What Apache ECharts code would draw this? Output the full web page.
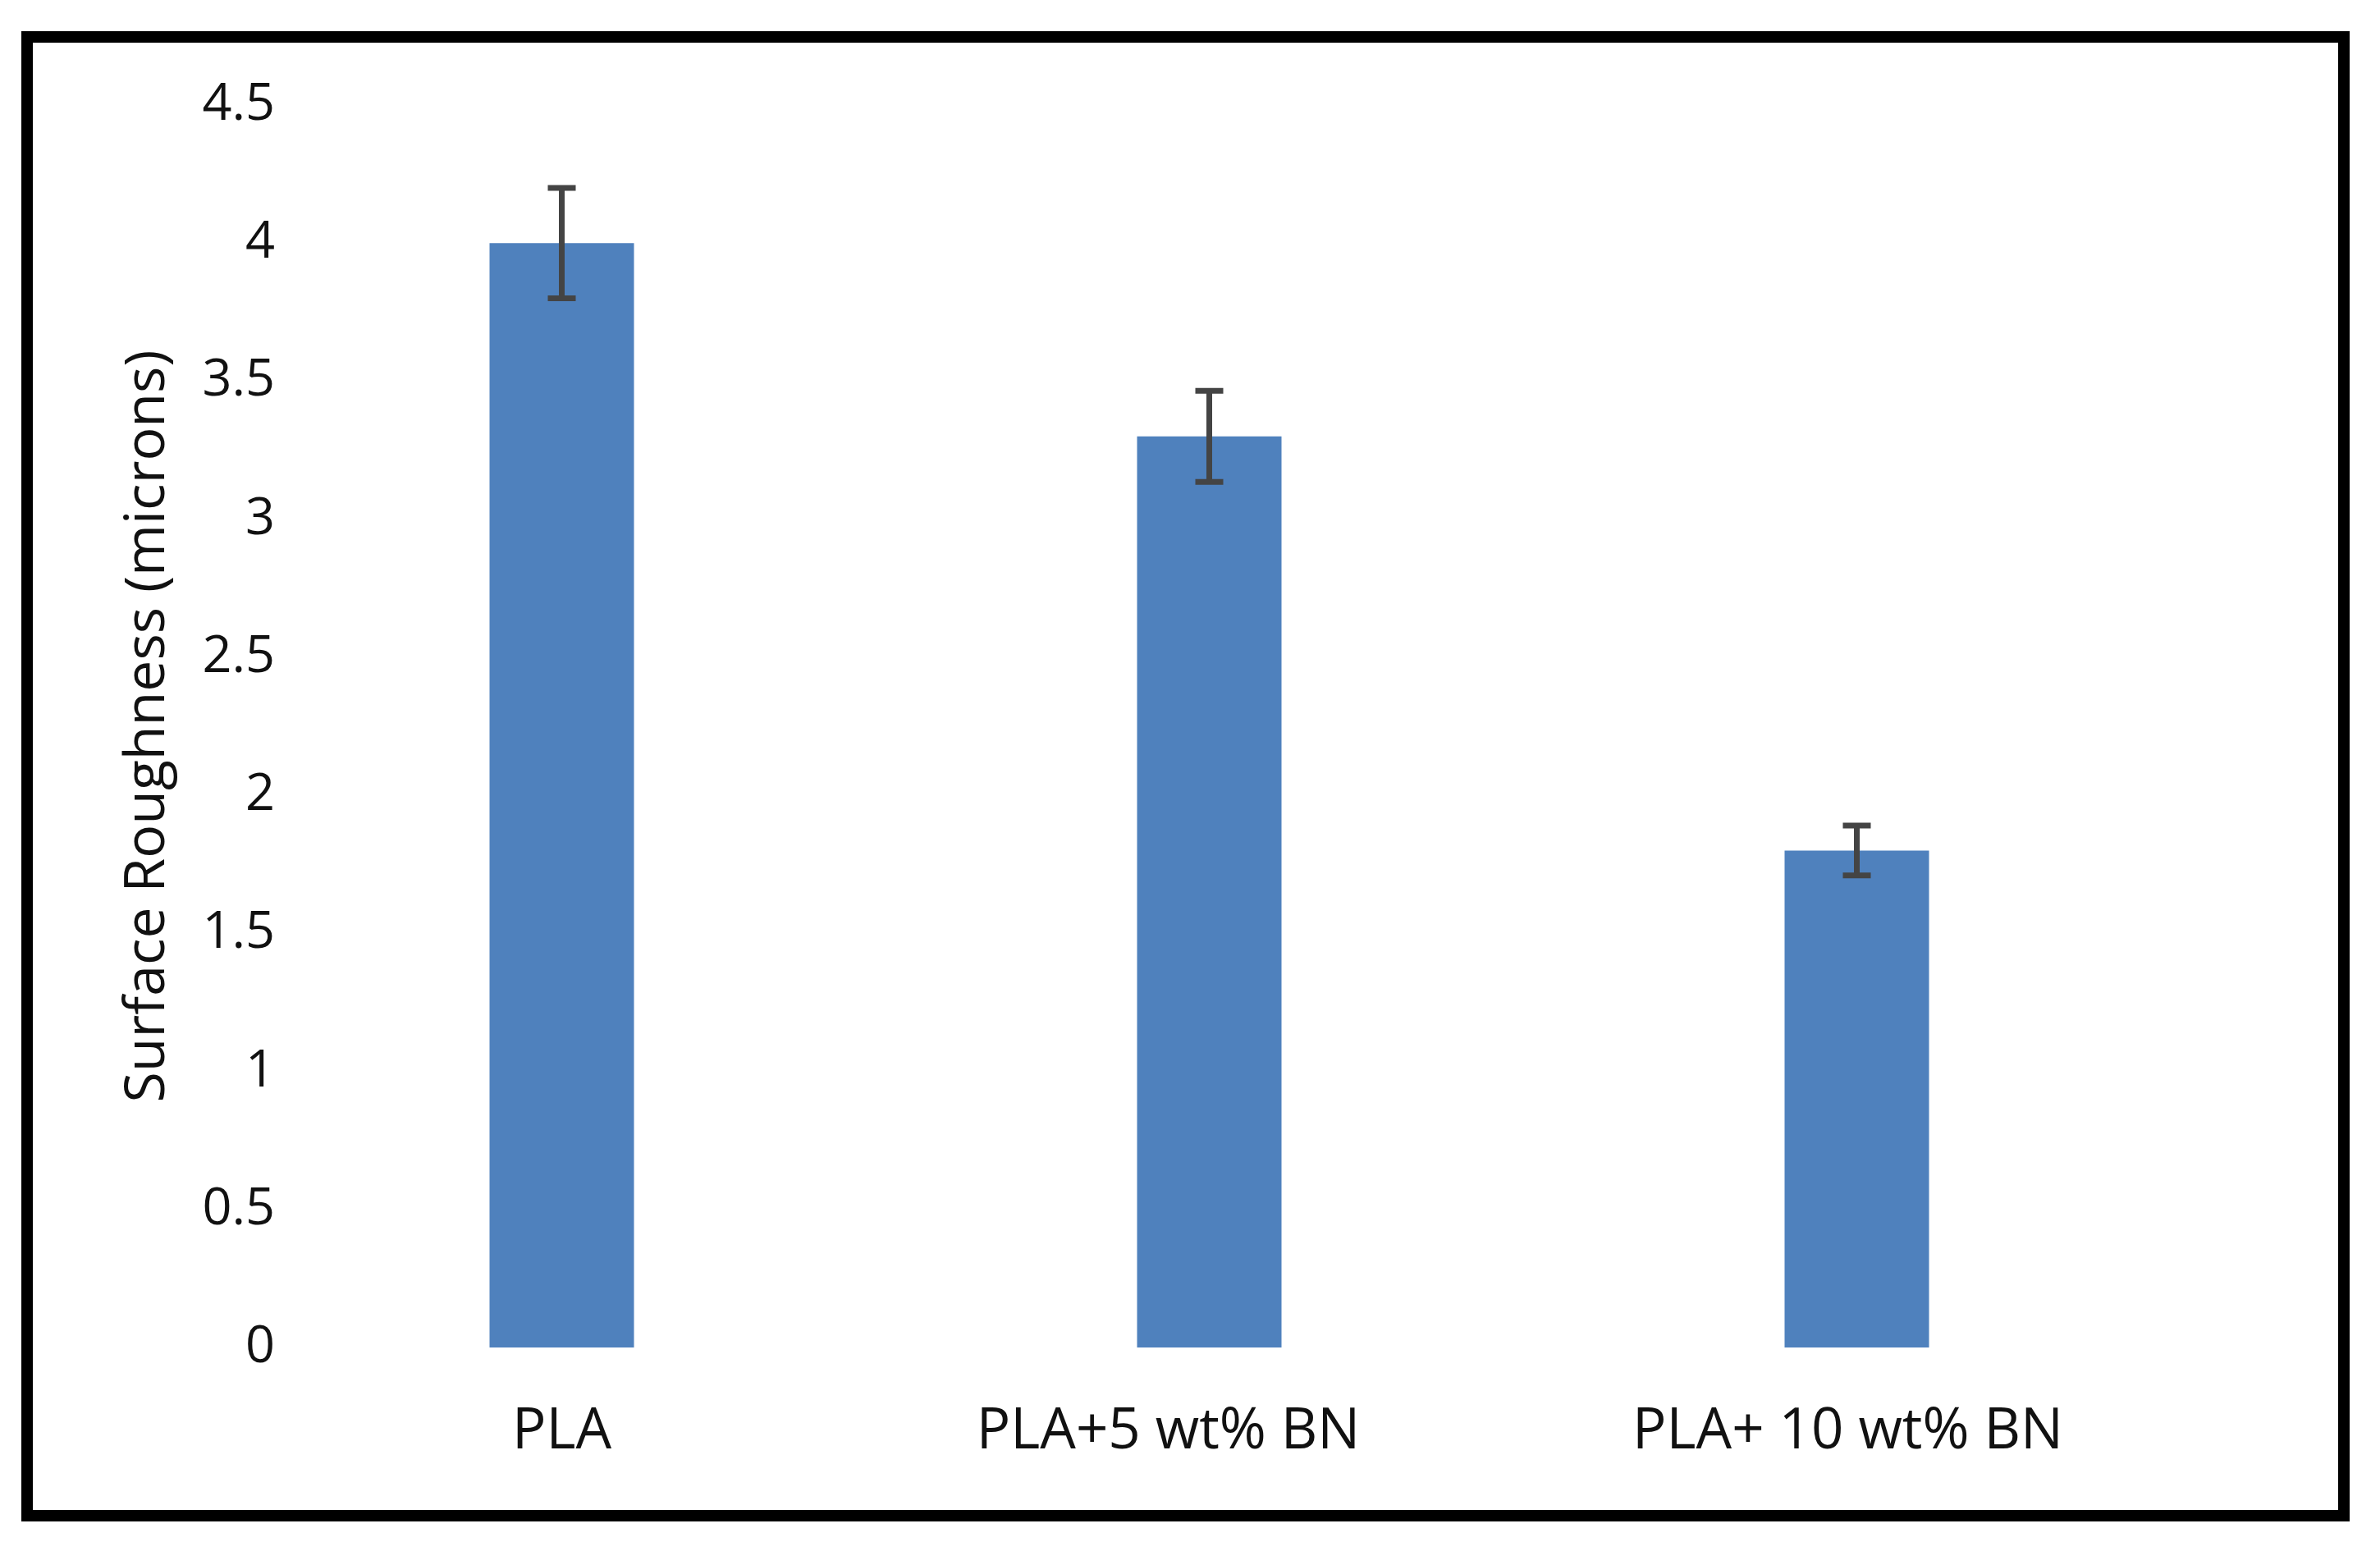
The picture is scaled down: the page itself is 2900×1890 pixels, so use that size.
<!DOCTYPE html>
<html><head><meta charset="utf-8">
<script src="https://cdn.jsdelivr.net/npm/echarts@6/dist/echarts.min.js"></script>
<style>html,body{margin:0;padding:0;background:#fff}#c{width:2900px;height:1890px}</style>
</head><body><div id="c"></div>
<script>
const categories = ['PLA', 'PLA+5 wt% BN', 'PLA+ 10 wt% BN'];
const roughness = [4.0, 3.3, 1.8];
const errors = [0.2, 0.165, 0.09];
const yAxisTitle = 'Surface Roughness (microns)';
const yMin = 0, yMax = 4.5, yStep = 0.5;

const FONT = 'Open Sans';
const chart = echarts.init(document.getElementById('c'), null, {renderer: 'canvas'});
chart.setOption({
  animation: false,
  backgroundColor: '#fff',
  graphic: [{
    type: 'rect', z: 100,
    shape: {x: 33, y: 45, width: 2823, height: 1802},
    style: {fill: 'none', stroke: '#000', lineWidth: 14}
  }],
  grid: {left: 290, right: 243, top: 128, bottom: 248, containLabel: false},
  xAxis: {
    type: 'category',
    data: categories,
    axisLine: {show: false},
    axisTick: {show: false},
    splitLine: {show: false},
    axisLabel: {
      interval: 0,
      margin: 69,
      fontFamily: FONT, fontSize: 69, color: '#111',
      formatter: function (v, i) { return i === 1 ? '{s|' + v + '}' : (i === 2 ? '{t|' + v + '}' : v); },
      rich: {
        s: {fontFamily: FONT, fontSize: 69, color: '#111', padding: [0, 100, 0, 0]},
        t: {fontFamily: FONT, fontSize: 69, color: '#111', padding: [0, 22, 0, 0]}
      }
    }
  },
  yAxis: {
    type: 'value',
    min: yMin, max: yMax, interval: yStep,
    axisLine: {show: false},
    axisTick: {show: false},
    splitLine: {show: false},
    axisLabel: {margin: -45, fontFamily: FONT, fontSize: 63, color: '#111'},
    name: yAxisTitle,
    nameLocation: 'middle',
    nameGap: 109,
    nameRotate: 90,
    nameTextStyle: {fontFamily: FONT, fontSize: 68, color: '#111', verticalAlign: 'middle'}
  },
  series: [{
    type: 'bar',
    data: roughness,
    barWidth: 176,
    itemStyle: {color: '#4F81BD'},
    z: 2
  }, {
    type: 'custom',
    z: 5,
    data: categories.map((c, i) => [i, roughness[i], errors[i]]),
    encode: {x: 0, y: 1},
    renderItem: function (params, api) {
      const x = api.value(0), v = api.value(1), e = api.value(2);
      const top = api.coord([x, v + e]);
      const bot = api.coord([x, v - e]);
      const hw = 17;
      const st = {stroke: '#444', lineWidth: 7};
      return {type: 'group', children: [
        {type: 'line', shape: {x1: top[0], y1: top[1], x2: bot[0], y2: bot[1]}, style: st},
        {type: 'line', shape: {x1: top[0] - hw, y1: top[1], x2: top[0] + hw, y2: top[1]}, style: st},
        {type: 'line', shape: {x1: bot[0] - hw, y1: bot[1], x2: bot[0] + hw, y2: bot[1]}, style: st}
      ]};
    }
  }]
});
</script></body></html>
